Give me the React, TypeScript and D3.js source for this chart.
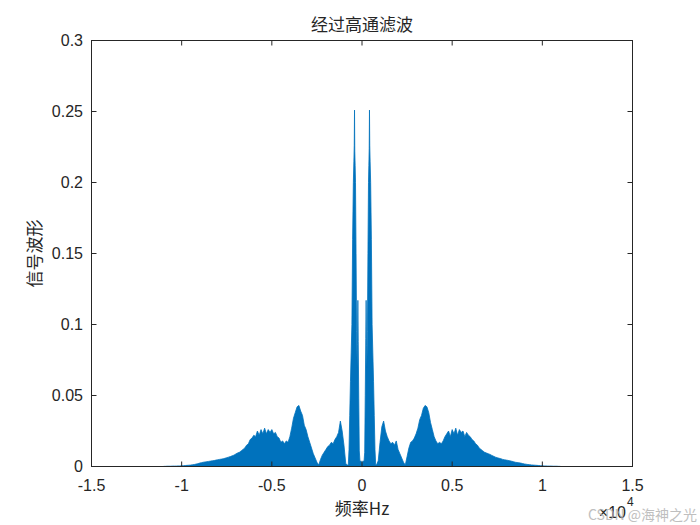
import React from "react";
import * as d3 from "d3";

// ---- data (frequency in units of 1e4 Hz, magnitude) ----
const xTickValues = [-1.5, -1, -0.5, 0, 0.5, 1, 1.5];
const xTickLabels = ["-1.5", "-1", "-0.5", "0", "0.5", "1", "1.5"];
const yTickValues = [0, 0.05, 0.1, 0.15, 0.2, 0.25, 0.3];
const yTickLabels = ["0", "0.05", "0.1", "0.15", "0.2", "0.25", "0.3"];

const titleText = "经过高通滤波";
const xLabelText = "频率Hz";
const yLabelText = "信号波形";

// central peaks, detailed
const centerFreqLeft = [-0.076, -0.072, -0.068, -0.064, -0.06, -0.056, -0.052, -0.048, -0.045, -0.043, -0.0415, -0.04, -0.038, -0.036, -0.033, -0.03, -0.027, -0.025, -0.023, -0.021, -0.018, -0.015, -0.011, -0.006];
const centerMagLeft = [0.001, 0.012, 0.036, 0.06, 0.08, 0.1, 0.16, 0.2, 0.215, 0.226, 0.251, 0.222, 0.212, 0.2, 0.15, 0.095, 0.07, 0.086, 0.117, 0.088, 0.048, 0.011, 0.003, 0.004];
const centerFreqRight = [0, 0.006, 0.011, 0.015, 0.018, 0.021, 0.023, 0.025, 0.027, 0.03, 0.033, 0.036, 0.038, 0.04, 0.0415, 0.043, 0.045, 0.048, 0.052, 0.056, 0.06, 0.064, 0.068, 0.072, 0.076];
const centerMagRight = [0.002, 0.004, 0.003, 0.01, 0.05, 0.09, 0.117, 0.085, 0.07, 0.095, 0.15, 0.2, 0.212, 0.224, 0.251, 0.226, 0.215, 0.2, 0.16, 0.1, 0.08, 0.06, 0.036, 0.012, 0.001];

// outer spectrum on a 0.01 grid: left from -1.10 to -0.08, right from 0.08 to 1.10
const outerMagLeft = [
  0.0001, 0.0001, 0.0002, 0.0002, 0.0002, 0.0003, 0.0003, 0.0003, 0.0004, 0.0004,
  0.0005, 0.0006, 0.0007, 0.0008, 0.0009, 0.001, 0.0012, 0.0014, 0.0017, 0.002,
  0.0024, 0.0027, 0.003, 0.0032, 0.0034, 0.0036, 0.0038, 0.004, 0.0042, 0.0045,
  0.0047, 0.005, 0.0052, 0.0054, 0.0058, 0.0062, 0.0066, 0.007, 0.0075, 0.008,
  0.0088, 0.0095, 0.01, 0.011, 0.012, 0.013, 0.015, 0.016, 0.019, 0.02,
  0.022, 0.021, 0.025, 0.022, 0.026, 0.023, 0.027, 0.023, 0.026, 0.024,
  0.026, 0.023, 0.024, 0.021, 0.02, 0.017, 0.018, 0.016, 0.018, 0.017,
  0.021, 0.027, 0.034, 0.038, 0.042, 0.043, 0.039, 0.036, 0.029, 0.026,
  0.021, 0.017, 0.013, 0.009, 0.006, 0.003, 0.001, 0.005, 0.008, 0.01,
  0.012, 0.014, 0.015, 0.017, 0.016, 0.019, 0.021, 0.024, 0.032, 0.025,
  0.015, 0.002, 0.001,
];
const outerMagRight = [
  0.001, 0.004, 0.017, 0.028, 0.032, 0.025, 0.021, 0.018, 0.016, 0.017, 0.015, 0.018,
  0.012, 0.009, 0.006, 0.003, 0.001, 0.007, 0.013, 0.017, 0.018, 0.02,
  0.023, 0.027, 0.033, 0.036, 0.041, 0.043, 0.042, 0.038, 0.031, 0.026,
  0.021, 0.018, 0.016, 0.017, 0.016, 0.018, 0.021, 0.023, 0.025, 0.021,
  0.026, 0.023, 0.027, 0.022, 0.026, 0.024, 0.025, 0.021, 0.024, 0.022,
  0.021, 0.019, 0.018, 0.016, 0.015, 0.013, 0.012, 0.011, 0.01, 0.0095,
  0.009, 0.0085, 0.0078, 0.0072, 0.0066, 0.0062, 0.0058, 0.0055, 0.005, 0.0047,
  0.0045, 0.0043, 0.004, 0.0037, 0.0034, 0.003, 0.0028, 0.0026, 0.0024, 0.0021,
  0.0018, 0.0016, 0.0014, 0.0013, 0.0011, 0.001, 0.0009, 0.0008, 0.0007, 0.0006,
  0.0005, 0.0004, 0.0004, 0.0003, 0.0003, 0.0003, 0.0002, 0.0002, 0.0002, 0.0001,
  0.0001,
];

const W = 700;
const H = 525;
const AX_L = 91.5;
const AX_R = 632.5;
const AX_T = 40.5;
const AX_B = 466.5;
const INK = "#262626";
const BLUE = "#0072BD";

export default function App() {
  const x = d3.scaleLinear().domain([-1.5, 1.5]).range([AX_L, AX_R]);
  const y = d3.scaleLinear().domain([0, 0.3]).range([AX_B, AX_T]);

  const outerFreqLeft = outerMagLeft.map((_, i) => +(-1.1 + 0.01 * i).toFixed(2));
  const outerFreqRight = outerMagRight.map((_, i) => +(0.08 + 0.01 * i).toFixed(2));

  const pts: [number, number][] = [];
  outerFreqLeft.forEach((f, i) => pts.push([f, outerMagLeft[i]]));
  centerFreqLeft.forEach((f, i) => pts.push([f, centerMagLeft[i]]));
  centerFreqRight.forEach((f, i) => pts.push([f, centerMagRight[i]]));
  outerFreqRight.forEach((f, i) => pts.push([f, outerMagRight[i]]));
  pts.sort((a, b) => a[0] - b[0]);

  const area = d3
    .area<[number, number]>()
    .x((d) => x(d[0]))
    .y0(y(0))
    .y1((d) => y(d[1]));
  const line = d3
    .line<[number, number]>()
    .x((d) => x(d[0]))
    .y((d) => y(d[1]));

  const tickFont = "'Liberation Sans', Arial, Helvetica, sans-serif";
  const cjkFont = "'Noto Sans CJK SC', 'Noto Sans', sans-serif";

  return (
    <svg
      width={W}
      height={H}
      viewBox={`0 0 ${W} ${H}`}
      style={{ position: "absolute", left: 0, top: 0, background: "#fff" }}
    >
      <rect x={0} y={0} width={W} height={H} fill="#fff" />
      <defs>
        <clipPath id="plotClip">
          <rect x={AX_L} y={AX_T} width={AX_R - AX_L} height={AX_B - AX_T} />
        </clipPath>
      </defs>
      <g clipPath="url(#plotClip)">
        <path d={area(pts) || ""} fill={BLUE} />
        <path d={line(pts) || ""} fill="none" stroke={BLUE} strokeWidth={0.8} />
      </g>

      {/* axes box */}
      <rect
        x={AX_L}
        y={AX_T}
        width={AX_R - AX_L}
        height={AX_B - AX_T}
        fill="none"
        stroke={INK}
        strokeWidth={1}
      />

      {/* x ticks */}
      {xTickValues.map((v, i) => (
        <g key={"xt" + i}>
          <line x1={x(v)} x2={x(v)} y1={AX_B} y2={AX_B - 5} stroke={INK} />
          <line x1={x(v)} x2={x(v)} y1={AX_T} y2={AX_T + 5} stroke={INK} />
          <text
            x={x(v)}
            y={491}
            textAnchor="middle"
            fontFamily={tickFont}
            fontSize={16}
            fill={INK}
          >
            {xTickLabels[i]}
          </text>
        </g>
      ))}

      {/* y ticks */}
      {yTickValues.map((v, i) => (
        <g key={"yt" + i}>
          <line x1={AX_L} x2={AX_L + 5} y1={y(v)} y2={y(v)} stroke={INK} />
          <line x1={AX_R} x2={AX_R - 5} y1={y(v)} y2={y(v)} stroke={INK} />
          <text
            x={83}
            y={y(v)}
            dy="0.36em"
            textAnchor="end"
            fontFamily={tickFont}
            fontSize={16}
            fill={INK}
          >
            {yTickLabels[i]}
          </text>
        </g>
      ))}

      {/* title */}
      <text
        x={(AX_L + AX_R) / 2}
        y={31}
        textAnchor="middle"
        fontFamily={cjkFont}
        fontSize={17}
        fill={INK}
      >
        {titleText}
      </text>

      {/* x label */}
      <text
        x={(AX_L + AX_R) / 2}
        y={515}
        textAnchor="middle"
        fontFamily={cjkFont}
        fontSize={17}
        fill={INK}
      >
        {xLabelText}
      </text>

      {/* y label */}
      <text
        transform={`translate(35, ${(AX_T + AX_B) / 2}) rotate(-90)`}
        textAnchor="middle"
        dy="0.35em"
        fontFamily={cjkFont}
        fontSize={17}
        fill={INK}
      >
        {yLabelText}
      </text>

      {/* exponent */}
      <text x={626} y={518} textAnchor="end" fontFamily={tickFont} fontSize={16} fill={INK}>
        ×10
      </text>
      <text x={627} y={506} fontFamily={tickFont} fontSize={12} fill={INK}>
        4
      </text>

      {/* watermark (overlaps the exponent, as in the source image) */}
      <text x={588} y={520} fontFamily={cjkFont} fontSize={14} fill="#b0b0b0" opacity={0.8}>
        CSDN @海神之光
      </text>
    </svg>
  );
}
